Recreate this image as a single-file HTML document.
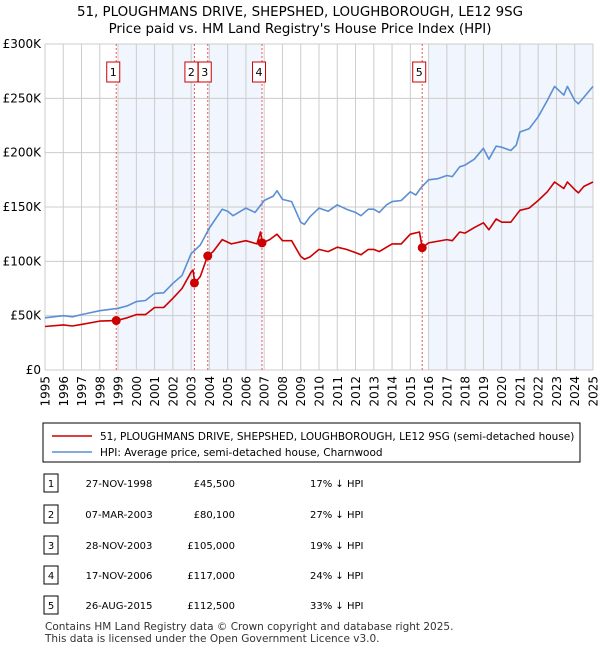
<!DOCTYPE html>
<html><head><meta charset="utf-8"><style>
body{margin:0;background:#fff;font-family:"DejaVu Sans","Liberation Sans",sans-serif;}
svg text{font-family:"DejaVu Sans","Liberation Sans",sans-serif;}
</style></head><body>
<svg id="c" width="600" height="650" xmlns="http://www.w3.org/2000/svg">
<text x="300" y="16" text-anchor="middle" font-size="13.4">51, PLOUGHMANS DRIVE, SHEPSHED, LOUGHBOROUGH, LE12 9SG</text>
<text x="300" y="33" text-anchor="middle" font-size="13.4">Price paid vs. HM Land Registry's House Price Index (HPI)</text>
<g id="plot"></g>
<rect x="43" y="423" width="537" height="39" fill="#fff" stroke="#000" stroke-width="1"/>
<line x1="52" y1="436" x2="92" y2="436" stroke="#cc0000" stroke-width="1.5"/>
<text x="100" y="440" font-size="10.5">51, PLOUGHMANS DRIVE, SHEPSHED, LOUGHBOROUGH, LE12 9SG (semi-detached house)</text>
<line x1="52" y1="452" x2="92" y2="452" stroke="#5b8fd4" stroke-width="1.5"/>
<text x="100" y="456" font-size="10.5">HPI: Average price, semi-detached house, Charnwood</text>
<g id="table"></g>
<text x="45" y="630" font-size="10.5" fill="#333">Contains HM Land Registry data © Crown copyright and database right 2025.</text>
<text x="45" y="642" font-size="10.5" fill="#333">This data is licensed under the Open Government Licence v3.0.</text>
</svg>
<script>
const yearTicks=[1995,1996,1997,1998,1999,2000,2001,2002,2003,2004,2005,2006,2007,2008,2009,2010,2011,2012,2013,2014,2015,2016,2017,2018,2019,2020,2021,2022,2023,2024,2025];
const valueTicks=[0,50000,100000,150000,200000,250000,300000];
const valueTickLabels=["£0","£50K","£100K","£150K","£200K","£250K","£300K"];
const hpiT=[1995,1996,1996.5,1997,1998,1999,1999.5,2000,2000.5,2001,2001.5,2002,2002.5,2003,2003.5,2004,2004.7,2005,2005.3,2006,2006.5,2007,2007.5,2007.7,2008,2008.5,2009,2009.2,2009.5,2010,2010.5,2011,2011.5,2012,2012.3,2012.7,2013,2013.3,2013.7,2014,2014.5,2015,2015.3,2015.6,2016,2016.5,2017,2017.3,2017.7,2018,2018.5,2019,2019.3,2019.7,2020,2020.5,2020.8,2021,2021.5,2022,2022.5,2022.9,2023.4,2023.6,2024,2024.2,2024.5,2025];
const hpiV=[48,50,49,51,54.6,56.8,59,62.9,64,70.5,71,79.8,87,107,115,130.7,148,146,142,149,145,156,160,165,157,155,136,134,141,149,146,152,148,145,142,148,148,145,152,155,156,164,161,168,175,176,179,178,187,188.6,194,204,194,206,205,202,207,219,222,233,248,261,253,261,248,245,251,261];
const propT=[1995,1996,1996.5,1997,1998,1998.9,1999.5,2000,2000.5,2001,2001.5,2002,2002.5,2003,2003.1,2003.2,2003.5,2003.9,2004.2,2004.7,2005.2,2006,2006.6,2006.8,2006.9,2007.3,2007.7,2008,2008.5,2009,2009.2,2009.5,2010,2010.5,2011,2011.5,2012,2012.3,2012.7,2013,2013.3,2013.7,2014,2014.5,2015,2015.5,2015.65,2016,2017,2017.3,2017.7,2018,2018.5,2019,2019.3,2019.7,2020,2020.5,2021,2021.5,2022,2022.5,2022.9,2023.4,2023.6,2024,2024.2,2024.5,2025];
const propV=[40,41.5,40.5,42,45,45.5,48,51,51,57.5,57.5,66,75,90,92,80.1,86,105,109,120,116,119,116,127,117,120,125,119,119,104.5,102,104,111,109,113,111,108,106,111,111,109,113,116,116,125,127,112.5,117,120,119,127,126,131,135.5,129,139,136,136,147,149,156,164,173,167,173,166,163,169,173];
const saleLabels=["1","2","3","4","5"];
const saleT=[1998.9,2003.18,2003.91,2006.88,2015.65];
const saleV=[45500,80100,105000,117000,112500];
const saleDates=["27-NOV-1998","07-MAR-2003","28-NOV-2003","17-NOV-2006","26-AUG-2015"];
const salePrices=["£45,500","£80,100","£105,000","£117,000","£112,500"];
const saleHpi=["17% ↓ HPI","27% ↓ HPI","19% ↓ HPI","24% ↓ HPI","33% ↓ HPI"];

const NS="http://www.w3.org/2000/svg";
const X0=45,X1=593,Y0=370,Y1=44;
const xs=t=>X0+(t-1995)/(2025-1995)*(X1-X0);
const ys=v=>Y0-v/300000*(Y0-Y1);
const plot=document.getElementById('plot');
function mk(tag,attrs,parent){const e=document.createElementNS(NS,tag);for(const k in attrs)e.setAttribute(k,attrs[k]);(parent||plot).appendChild(e);return e;}
const bands=[[1999.05,saleT[1]],[saleT[2],saleT[3]],[2016.0,2025]];
bands.forEach((b)=>{const r=mk('rect',{x:xs(b[0]),y:Y1,width:xs(b[1])-xs(b[0]),height:Y0-Y1,fill:'#eef3fd',opacity:0.8});

});
yearTicks.forEach(y=>{const l=mk('line',{x1:xs(y),x2:xs(y),y1:Y1,y2:Y0,stroke:'#cccccc','stroke-width':1});


const t=mk('text',{x:0,y:0,'font-size':12,'text-anchor':'end',transform:`translate(${xs(y)+4.5},${Y0+6}) rotate(-90)`});t.textContent=y;

});
valueTicks.forEach((v,i)=>{const l=mk('line',{x1:X0,x2:X1,y1:ys(v),y2:ys(v),stroke:'#cccccc','stroke-width':1});


const t=mk('text',{x:X0-4,y:ys(v)+4,'font-size':12,'text-anchor':'end'});t.textContent=valueTickLabels[i];

});
saleT.forEach((t,i)=>{const l=mk('line',{x1:xs(t),x2:xs(t),y1:Y1,y2:Y0,stroke:'#ee5555','stroke-width':1,'stroke-dasharray':'2,2'});


const bx=xs(t)-3;
const r=mk('rect',{x:bx-6.5,y:62,width:13,height:20,fill:'#fff',stroke:'#cc0000'});


const tx=mk('text',{x:bx,y:76,'font-size':11,'text-anchor':'middle'});tx.textContent=saleLabels[i];

});
function line(T,V,col,name){const d=T.map((t,i)=>(i?'L':'M')+xs(t).toFixed(1)+','+ys(V[i]*1000).toFixed(1)).join('');
const p=mk('path',{d:d,fill:'none',stroke:col,'stroke-width':1.6,'stroke-linejoin':'round'});

}
line(hpiT,hpiV,'#5b8fd4','hpi-line');
line(propT,propV,'#cc0000','property-price-line');
saleT.forEach((t,i)=>{const c=mk('circle',{cx:xs(t),cy:ys(saleV[i]),r:4.5,fill:'#cc0000'});

});
const tb=document.getElementById('table');
const rowY=[483,514,545,575,605];
saleLabels.forEach((s,i)=>{const y=rowY[i];
const r=mk('rect',{x:44,y:y-9,width:14,height:18,fill:'#fff',stroke:'#000'},tb);


const a=mk('text',{x:51,y:y+4,'font-size':10,'text-anchor':'middle'},tb);a.textContent=s;


const b=mk('text',{x:119,y:y+4,'font-size':10,'text-anchor':'middle'},tb);b.textContent=saleDates[i];


const c=mk('text',{x:235,y:y+4,'font-size':10,'text-anchor':'end'},tb);c.textContent=salePrices[i];


const d=mk('text',{x:310,y:y+4,'font-size':10},tb);d.textContent=saleHpi[i];

});
</script>
</body></html>
